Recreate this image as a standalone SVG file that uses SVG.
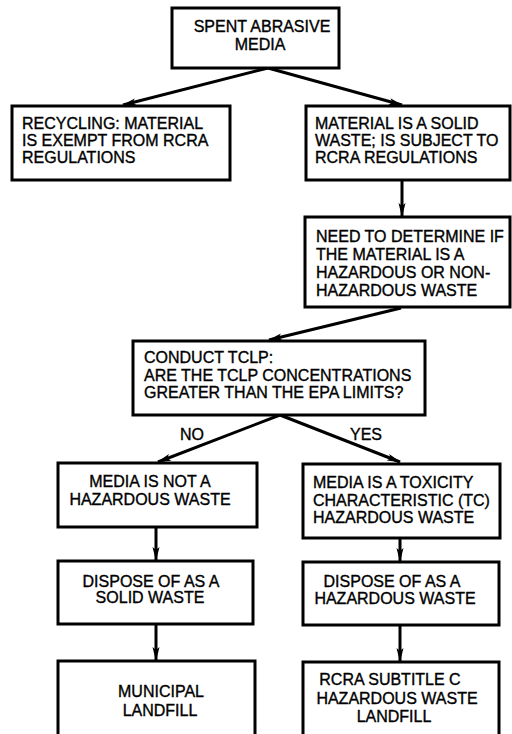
<svg xmlns="http://www.w3.org/2000/svg" width="512" height="734" viewBox="0 0 512 734">
<style>
.box{fill:#fff;stroke:#000;stroke-width:3}
.t{font-family:"Liberation Sans",Arial,sans-serif;font-size:16px;fill:#000;stroke:#000;stroke-width:0.35}
.c{text-anchor:middle}
.con{stroke:#000;stroke-width:3;fill:none;marker-end:url(#ah)}
</style>
<defs>
<marker id="ah" markerUnits="userSpaceOnUse" markerWidth="14" markerHeight="8" refX="13" refY="4" orient="auto">
<path d="M0,0.5 L14,4 L0,7.5 L3,4 z" fill="#000"/>
</marker>
</defs>
<rect width="512" height="734" fill="#fff"/>
<g id="connectors">
<line class="con" x1="268" y1="68" x2="123" y2="105"/>
<line class="con" x1="268" y1="68" x2="402" y2="105"/>
<line class="con" x1="402" y1="181" x2="402" y2="216"/>
<line class="con" x1="401" y1="308" x2="269" y2="340"/>
<line class="con" x1="280" y1="415" x2="158" y2="462"/>
<line class="con" x1="280" y1="415" x2="400" y2="462"/>
<line class="con" x1="156" y1="528" x2="156" y2="560"/>
<line class="con" x1="400" y1="539" x2="400" y2="561"/>
<line class="con" x1="156" y1="625" x2="156" y2="660"/>
<line class="con" x1="400" y1="626" x2="400" y2="661"/>
<text class="t" x="180" y="440">NO</text>
<text class="t" x="350" y="440">YES</text>
</g>
<g id="n1"><rect class="box" x="172" y="8" width="167" height="60"/>
<text class="t c" x="262" y="32">SPENT ABRASIVE</text><text class="t c" x="260" y="50">MEDIA</text></g>
<g id="n2"><rect class="box" x="12" y="106" width="218" height="74"/>
<text class="t" x="22" y="129">RECYCLING: MATERIAL</text><text class="t" x="22" y="146">IS EXEMPT FROM RCRA</text><text class="t" x="22" y="163">REGULATIONS</text></g>
<g id="n3"><rect class="box" x="306" y="106" width="204" height="74"/>
<text class="t" x="315" y="129">MATERIAL IS A SOLID</text><text class="t" x="315" y="146">WASTE; IS SUBJECT TO</text><text class="t" x="315" y="163">RCRA REGULATIONS</text></g>
<g id="n4"><rect class="box" x="305" y="217" width="205" height="90"/>
<text class="t" x="316" y="242">NEED TO DETERMINE IF</text><text class="t" x="316" y="260">THE MATERIAL IS A</text><text class="t" x="316" y="278">HAZARDOUS OR NON-</text><text class="t" x="316" y="296">HAZARDOUS WASTE</text></g>
<g id="n5"><rect class="box" x="133" y="341" width="292" height="74"/>
<text class="t" x="144" y="363">CONDUCT TCLP:</text><text class="t" x="144" y="381">ARE THE TCLP CONCENTRATIONS</text><text class="t" x="144" y="398">GREATER THAN THE EPA LIMITS?</text></g>
<g id="n6"><rect class="box" x="58" y="463" width="199" height="64"/>
<text class="t c" x="150" y="487">MEDIA IS NOT A</text><text class="t c" x="150" y="505">HAZARDOUS WASTE</text></g>
<g id="n7"><rect class="box" x="303" y="464" width="197" height="74"/>
<text class="t" x="313" y="488">MEDIA IS A TOXICITY</text><text class="t" x="313" y="506">CHARACTERISTIC (TC)</text><text class="t" x="313" y="523">HAZARDOUS WASTE</text></g>
<g id="n8"><rect class="box" x="58" y="561" width="195" height="63"/>
<text class="t c" x="151" y="587">DISPOSE OF AS A</text><text class="t c" x="150" y="603">SOLID WASTE</text></g>
<g id="n9"><rect class="box" x="303" y="562" width="196" height="63"/>
<text class="t c" x="392" y="587">DISPOSE OF AS A</text><text class="t c" x="395" y="604">HAZARDOUS WASTE</text></g>
<g id="n10"><rect class="box" x="58" y="661" width="197" height="82"/>
<text class="t c" x="161" y="697">MUNICIPAL</text><text class="t c" x="160" y="716">LANDFILL</text></g>
<g id="n11"><rect class="box" x="303" y="662" width="196" height="82"/>
<text class="t c" x="390" y="685">RCRA SUBTITLE C</text><text class="t c" x="397" y="704">HAZARDOUS WASTE</text><text class="t c" x="394" y="722">LANDFILL</text></g>
</svg>
